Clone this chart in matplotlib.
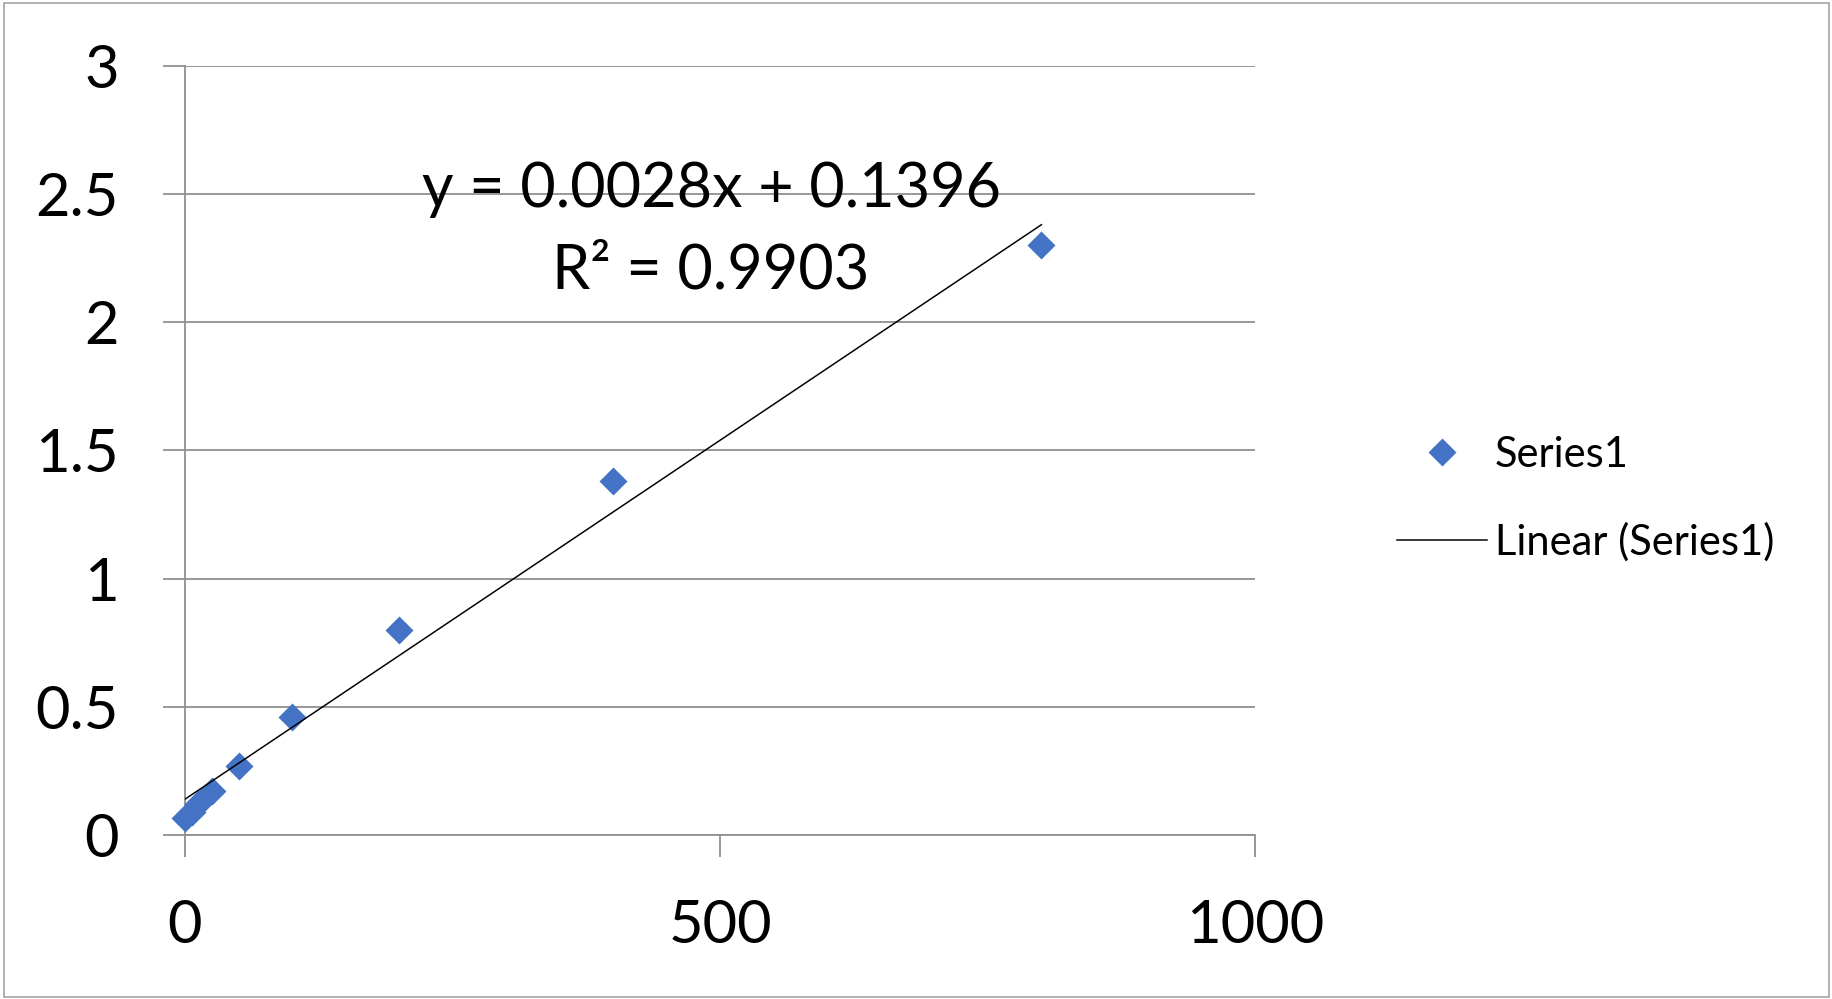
import numpy as np
import matplotlib
matplotlib.use("Agg")
import matplotlib.pyplot as plt
from matplotlib.patches import Rectangle

# ---- data ----
conc = [0, 6.25, 12.5, 25, 50, 100, 200, 400, 800]
absorb = [0.065, 0.09, 0.12, 0.17, 0.27, 0.46, 0.80, 1.38, 2.30]
trend_slope = 0.0028
trend_intercept = 0.1396
r_squared = 0.9903
x_ticks = [0, 500, 1000]
y_ticks = [0, 0.5, 1, 1.5, 2, 2.5, 3]
y_tick_labels = ["0", "0.5", "1", "1.5", "2", "2.5", "3"]
series_label = "Series1"
trend_label = "Linear (Series1)"

plt.rcParams['font.family'] = ['Lato', 'DejaVu Sans']

W, H = 1833, 999
fig = plt.figure(figsize=(W / 100, H / 100), dpi=100)
fig.patch.set_facecolor('white')

left, right = 185 / W, 1255.5 / W
bottom, top = 1 - 835 / H, 1 - 65.6 / H
ax = fig.add_axes([left, bottom, right - left, top - bottom])

grid_color = '#8f8f8f'
px = 72 / 100  # points per pixel

ax.set_xlim(0, 1000)
ax.set_ylim(0, 3)
ax.set_xticks(x_ticks)
ax.set_xticklabels([str(v) for v in x_ticks])
ax.set_yticks(y_ticks)
ax.set_yticklabels(y_tick_labels)

ax.yaxis.grid(True, color=grid_color, linewidth=1.8 * px)
ax.xaxis.grid(False)
ax.set_axisbelow(True)

for s in ['top', 'right']:
    ax.spines[s].set_visible(False)
for s in ['left', 'bottom']:
    ax.spines[s].set_color(grid_color)
    ax.spines[s].set_linewidth(1.8 * px)

ax.tick_params(axis='both', direction='out', length=22 * px, width=1.8 * px,
               color=grid_color, labelsize=43, labelcolor='black')
ax.tick_params(axis='y', pad=44 * px)
ax.tick_params(axis='x', pad=42 * px)

ax.plot(conc, absorb, linestyle='none', marker='D', markersize=14,
        markerfacecolor='#4472C4', markeredgecolor='none', label=series_label,
        zorder=3, clip_on=False)

xt = np.array([min(conc), max(conc)])
ax.plot(xt, trend_slope * xt + trend_intercept, color='black',
        linewidth=1.5 * px, label=trend_label, zorder=4)

ax.text(0.4914, 0.816, f"y = {trend_slope:.4f}x + {trend_intercept:.4f}",
        transform=ax.transAxes, ha='center', va='baseline', fontsize=44)
ax.text(0.4914, 0.7097, f"R² = {r_squared:.4f}",
        transform=ax.transAxes, ha='center', va='baseline', fontsize=44)

handles, labels = ax.get_legend_handles_labels()
fig.legend(handles, labels, loc='upper left',
           bbox_to_anchor=(1397 / W, 1 - 436 / H), frameon=False,
           fontsize=30, borderpad=0, borderaxespad=0, handlelength=2.15,
           handletextpad=0.2, labelspacing=1.15, markerscale=1.0)

fig.add_artist(Rectangle((4 / W, 2 / H), (1829 - 4) / W, (996 - 2) / H,
                         transform=fig.transFigure, fill=False,
                         edgecolor='#9a9a9a', linewidth=1.5 * px))

fig.savefig('out.png', dpi=100, facecolor='white')
